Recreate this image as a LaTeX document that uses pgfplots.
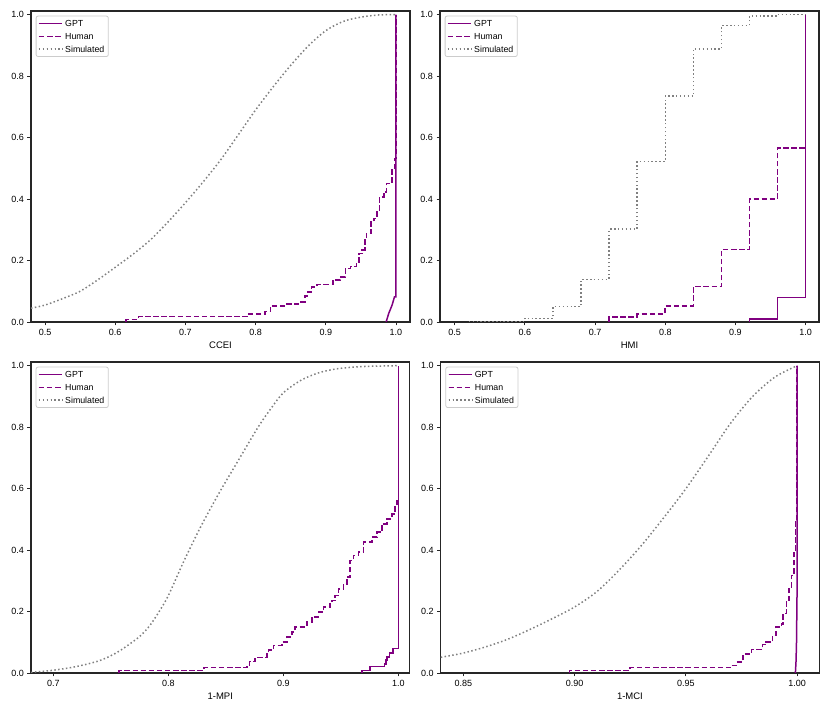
\documentclass[border=0pt]{standalone}
\usepackage{fontspec}
\setmainfont{Liberation Sans}
\usepackage{pgfplots}
\pgfplotsset{compat=1.18}
\definecolor{mpurple}{RGB}{128,0,128}
\definecolor{mgray}{RGB}{128,128,128}
\definecolor{spine}{RGB}{38,38,38}
\definecolor{legedge}{RGB}{204,204,204}
\tikzset{
 forcest/.style={/utils/exec={\pgfsetstrokecolor{white}\pgfsetlinewidth{0.1pt}}},
 gptline/.style={forcest, solid, line width=1.5pt, draw=mpurple},
 humline/.style={forcest, dash pattern=on 5.5pt off 2.6pt, line width=1.6pt, draw=mpurple},
 simline/.style={forcest, dash pattern=on 1.5pt off 2.4pt, line width=1.5pt, draw=mgray},
}
\pgfplotsset{
 panel/.style={
  scale only axis, width=379pt, height=311pt,
  ymin=0, ymax=1.012,
  axis line style={color=spine, line width=1.1pt},
  major tick style={color=spine, line width=0.9pt},
  tick align=outside, major tick length=3.5pt,
  xtick pos=left, ytick pos=left,
  ytick={0,0.2,0.4,0.6,0.8,1.0},
  yticklabels={0.0,0.2,0.4,0.6,0.8,1.0},
  tick label style={font=\fontsize{9}{10}\selectfont},
  xlabel style={font=\fontsize{9.5}{11}\selectfont, at={(axis description cs:0.5,-0.074)}, anchor=center},
  legend style={at={(0.0124,0.985)}, anchor=north west, draw=legedge, rounded corners=2pt,
    font=\fontsize{8.8}{10}\selectfont, fill=white, line width=0.8pt,
    inner xsep=2pt, inner ysep=1.2pt,
    nodes={inner ysep=3.1pt, inner xsep=2pt, text height=6.5pt, text depth=0pt}},
  legend cell align=left,
  legend image code/.code={\draw[##1] (0pt,0pt) -- (18.7pt,0pt); \path (0pt,0pt) -- (23.5pt,0pt);},
 },
}
\begin{document}
\begin{tikzpicture}
\useasboundingbox (0pt,0pt) rectangle (830pt,712pt);
% ---------------- CCEI
\begin{axis}[panel, at={(31pt,390pt)}, anchor=south west,
  xmin=0.48, xmax=1.02, xtick={0.5,0.6,0.7,0.8,0.9,1.0},
  xticklabels={0.5,0.6,0.7,0.8,0.9,1.0}, xlabel={CCEI}]
\addplot[gptline] coordinates {(0.986,0) (0.9897,0.028) (0.9945,0.055) (0.9979,0.082) (1.0,0.082) (1.0,1.0)};
\addlegendentry{GPT}
\addplot[humline, const plot] coordinates {
(0.6156,0) (0.6156,0.0087) (0.633,0.0173) (0.7877,0.026) (0.8138,0.0336) (0.821,0.053)
(0.8448,0.0585) (0.8614,0.066) (0.870,0.085) (0.8742,0.0985) (0.8795,0.1147) (0.8876,0.1225)
(0.9104,0.1365) (0.9208,0.147) (0.928,0.1745) (0.9351,0.18) (0.9437,0.196) (0.947,0.223)
(0.9518,0.234) (0.9555,0.272) (0.9579,0.288) (0.9646,0.326) (0.9684,0.337) (0.9731,0.364)
(0.9765,0.407) (0.9826,0.4235) (0.9864,0.4507) (0.9922,0.456) (0.9945,0.494) (0.9979,0.532) (1.0,1.0)};
\addlegendentry{Human}
\addplot[simline, smooth, tension=0.5] coordinates {
(0.48,0.045) (0.50,0.055) (0.525,0.076) (0.55,0.100) (0.575,0.137) (0.60,0.178) (0.625,0.220)
(0.65,0.267) (0.675,0.325) (0.70,0.388) (0.725,0.455) (0.75,0.527) (0.775,0.608) (0.80,0.690)
(0.825,0.765) (0.85,0.835) (0.875,0.898) (0.90,0.948) (0.925,0.978) (0.95,0.992) (0.975,0.999) (1.00,1.000)};
\addlegendentry{Simulated}
\end{axis}
% ---------------- HMI
\begin{axis}[panel, at={(440pt,390pt)}, anchor=south west,
  xmin=0.479, xmax=1.019, xtick={0.5,0.6,0.7,0.8,0.9,1.0},
  xticklabels={0.5,0.6,0.7,0.8,0.9,1.0}, xlabel={HMI}]
\addplot[gptline, const plot] coordinates {(0.92,0) (0.92,0.009) (0.96,0.079) (1.0,1.0)};
\addlegendentry{GPT}
\addplot[humline, const plot] coordinates {(0.72,0) (0.72,0.017) (0.76,0.026) (0.80,0.053) (0.84,0.115) (0.88,0.236) (0.92,0.40) (0.96,0.567) (1.0,1.0)};
\addlegendentry{Human}
\addplot[simline, const plot] coordinates {(0.52,0.0005) (0.56,0.002) (0.60,0.012) (0.64,0.05) (0.68,0.139) (0.72,0.302) (0.76,0.523) (0.80,0.735) (0.84,0.889) (0.88,0.965) (0.92,0.996) (0.96,1.0) (1.0,1.0)};
\addlegendentry{Simulated}
\end{axis}
% ---------------- 1-MPI
\begin{axis}[panel, width=378.5pt, at={(31pt,39pt)}, anchor=south west,
  xmin=0.6806, xmax=1.0096, xtick={0.7,0.8,0.9,1.0},
  xticklabels={0.7,0.8,0.9,1.0}, xlabel={1-MPI}]
\addplot[gptline, const plot] coordinates {(0.9676,0) (0.9683,0.0087) (0.9754,0.0217) (0.9878,0.03) (0.989,0.043) (0.9899,0.052) (0.9922,0.065) (0.9951,0.079) (1.0,1.0)};
\addlegendentry{GPT}
\addplot[humline, const plot] coordinates {
(0.7571,0) (0.7571,0.0087) (0.831,0.0173) (0.8681,0.026) (0.8705,0.038) (0.8754,0.051) (0.8855,0.065)
(0.887,0.074) (0.8913,0.09) (0.8986,0.1) (0.903,0.117) (0.9073,0.133) (0.9102,0.15) (0.9203,0.166)
(0.9247,0.182) (0.9304,0.198) (0.9348,0.214) (0.9406,0.2255) (0.942,0.236) (0.945,0.2525) (0.9478,0.274)
(0.9522,0.29) (0.9551,0.312) (0.958,0.366) (0.9609,0.3825) (0.9652,0.393) (0.9696,0.4258) (0.9768,0.442)
(0.9812,0.458) (0.9856,0.4855) (0.9899,0.502) (0.9943,0.518) (0.9971,0.545) (0.9986,0.561) (1.0,1.0)};
\addlegendentry{Human}
\addplot[simline, smooth, tension=0.5] coordinates {
(0.6806,0.002) (0.70,0.009) (0.72,0.021) (0.74,0.040) (0.755,0.066) (0.767,0.096) (0.776,0.122) (0.784,0.155) (0.792,0.200)
(0.80,0.252) (0.813,0.360) (0.828,0.475) (0.844,0.585) (0.861,0.693) (0.878,0.800) (0.89,0.865)
(0.90,0.912) (0.915,0.952) (0.93,0.976) (0.945,0.989) (0.96,0.995) (0.975,0.998) (1.0,1.0)};
\addlegendentry{Simulated}
\end{axis}
% ---------------- 1-MCI
\begin{axis}[panel, width=378.5pt, at={(440.7pt,39pt)}, anchor=south west,
  xmin=0.8398, xmax=1.0099, xtick={0.85,0.90,0.95,1.00},
  xticklabels={0.85,0.90,0.95,1.00}, xlabel={1-MCI}]
\addplot[gptline] coordinates {(0.9992,0) (0.9995,0.04) (0.9997,0.1) (0.99985,0.2) (1.0,0.3) (1.0,1.0)};
\addlegendentry{GPT}
\addplot[humline, const plot] coordinates {
(0.8976,0) (0.8976,0.0087) (0.9249,0.0175) (0.9705,0.025) (0.9728,0.035) (0.9757,0.061) (0.9795,0.077)
(0.9844,0.093) (0.9855,0.10) (0.9889,0.1225) (0.9904,0.15) (0.993,0.16) (0.9937,0.193) (0.9952,0.236)
(0.9964,0.28) (0.9975,0.3175) (0.9985,0.399) (0.9993,0.496) (1.0,1.0)};
\addlegendentry{Human}
\addplot[simline, smooth, tension=0.5] coordinates {
(0.8398,0.051) (0.85,0.065) (0.86,0.085) (0.87,0.110) (0.88,0.142) (0.89,0.177) (0.90,0.215)
(0.91,0.265) (0.92,0.335) (0.93,0.415) (0.94,0.505) (0.95,0.600) (0.96,0.705) (0.97,0.812)
(0.98,0.900) (0.99,0.963) (1.00,1.000)};
\addlegendentry{Simulated}
\end{axis}
\end{tikzpicture}
\end{document}
